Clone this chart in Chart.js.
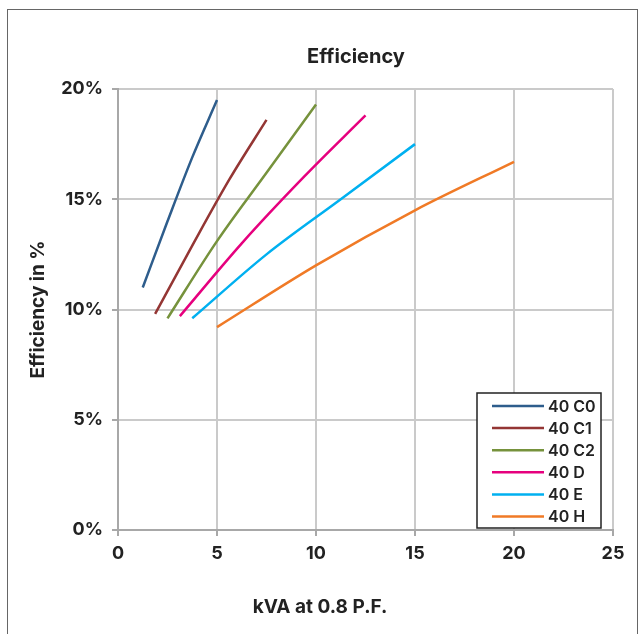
<!DOCTYPE html>
<html lang="en">
<head>
<meta charset="UTF-8">
<title>Efficiency</title>
<script src="https://cdn.jsdelivr.net/npm/chart.js"></script>
<style>
    html, body { margin: 0; padding: 0; background: #fff; overflow: hidden; }
    .frame {
        position: absolute; left: 7px; top: 9px;
        width: 631px; height: 700px;
        border: 1px solid #666; box-sizing: border-box;
    }
    .chart-box { position: absolute; left: 0; top: 0; width: 643px; height: 634px; }
</style>
</head>
<body>
<div class="frame"></div>
<div class="chart-box"><canvas id="effChart"></canvas></div>
<script>
// series names + colours
const seriesNames = ['40 C0', '40 C1', '40 C2', '40 D', '40 E', '40 H'];
const seriesColors = ['#2e5d8c', '#943634', '#76923c', '#e6007e', '#00b0f0', '#f07a26'];

// kVA (x) at 25/50/75/100 % load, efficiency % (y)
const kvaC0 = [1.25, 2.5, 3.75, 5];
const effC0 = [11.0, 14.0, 16.9, 19.5];
const kvaC1 = [1.875, 3.75, 5.625, 7.5];
const effC1 = [9.8, 12.9, 15.9, 18.6];
const kvaC2 = [2.5, 5, 7.5, 10];
const effC2 = [9.6, 13.1, 16.2, 19.3];
const kvaD = [3.125, 6.25, 9.375, 12.5];
const effD = [9.7, 13.0, 16.0, 18.8];
const kvaE = [3.75, 7.5, 11.25, 15];
const effE = [9.6, 12.5, 15.0, 17.5];
const kvaH = [5, 10, 15, 20];
const effH = [9.2, 12.0, 14.5, 16.7];

const xTicks = [0, 5, 10, 15, 20, 25];
const yTicks = [0, 5, 10, 15, 20];

const chartTitle = 'Efficiency';
const xTitle = 'kVA at 0.8 P.F.';
const yTitle = 'Efficiency in %';

const kvaSets = [kvaC0, kvaC1, kvaC2, kvaD, kvaE, kvaH];
const effSets = [effC0, effC1, effC2, effD, effE, effH];

const FONT = 'Inter, "DejaVu Sans", sans-serif';
const TEXT = '#222222';

const datasets = seriesNames.map(function (name, i) {
    return {
        label: name,
        data: kvaSets[i].map(function (x, j) { return { x: x, y: effSets[i][j] }; }),
        borderColor: seriesColors[i],
        backgroundColor: seriesColors[i],
        borderWidth: 2.5,
        pointRadius: 0,
        cubicInterpolationMode: 'monotone',
        fill: false
    };
});

// titles and the boxed legend drawn by hand
const decorPlugin = {
    id: 'decor',
    afterDraw(chart) {
        const ctx = chart.ctx;
        const area = chart.chartArea;
        ctx.save();
        ctx.fillStyle = TEXT;
        ctx.textAlign = 'center';
        ctx.textBaseline = 'middle';
        ctx.font = '700 20px ' + FONT;
        ctx.fillText(chartTitle, 356, 57);
        ctx.font = '700 19px ' + FONT;
        ctx.fillText(xTitle, 320, 607);
        ctx.translate(38, (area.top + area.bottom) / 2);
        ctx.rotate(-Math.PI / 2);
        ctx.fillText(yTitle, 0, 0);
        ctx.restore();

        // legend
        const boxW = 124, boxH = 135;
        const bx = area.right - 12 - boxW;
        const by = area.bottom - 2 - boxH;
        ctx.save();
        ctx.fillStyle = '#fff';
        ctx.fillRect(bx, by, boxW, boxH);
        ctx.strokeStyle = '#222';
        ctx.lineWidth = 1.5;
        ctx.strokeRect(bx, by, boxW, boxH);
        ctx.font = '600 16px ' + FONT;
        ctx.textAlign = 'left';
        ctx.textBaseline = 'middle';
        chart.data.datasets.forEach(function (ds, i) {
            const y = by + 13 + i * 22.1;
            ctx.strokeStyle = ds.borderColor;
            ctx.lineWidth = 2.5;
            ctx.beginPath();
            ctx.moveTo(bx + 15, y);
            ctx.lineTo(bx + 67, y);
            ctx.stroke();
            ctx.fillStyle = TEXT;
            ctx.fillText(ds.label, bx + 71, y + 1);
        });
        ctx.restore();
    }
};

new Chart(document.getElementById('effChart'), {
    type: 'line',
    data: { datasets: datasets },
    options: {
        responsive: true,
        maintainAspectRatio: false,
        animation: false,
        layout: { padding: { left: 0, right: 30, top: 89, bottom: 0 } },
        scales: {
            x: {
                type: 'linear',
                min: xTicks[0],
                max: xTicks[xTicks.length - 1],
                afterFit(scale) { scale.height = 104; },
                afterBuildTicks(scale) { scale.ticks = xTicks.map(function (v) { return { value: v }; }); },
                grid: { color: '#cacaca', lineWidth: 2, tickLength: 6, tickColor: '#a8a8a8' },
                border: { color: '#a8a8a8', width: 2 },
                ticks: { color: TEXT, padding: 7, font: { family: FONT, size: 18, weight: '700' } }
            },
            y: {
                min: yTicks[0],
                max: yTicks[yTicks.length - 1],
                afterFit(scale) { scale.width = 118; },
                afterBuildTicks(scale) { scale.ticks = yTicks.map(function (v) { return { value: v }; }); },
                grid: { color: '#cacaca', lineWidth: 2, tickLength: 6, tickColor: '#a8a8a8' },
                border: { color: '#a8a8a8', width: 2 },
                ticks: {
                    color: TEXT, padding: 9,
                    font: { family: FONT, size: 18, weight: '700' },
                    callback: function (v) { return v + '%'; }
                }
            }
        },
        plugins: {
            legend: { display: false },
            title: { display: false },
            tooltip: { enabled: false }
        }
    },
    plugins: [decorPlugin]
});
</script>
</body>
</html>
